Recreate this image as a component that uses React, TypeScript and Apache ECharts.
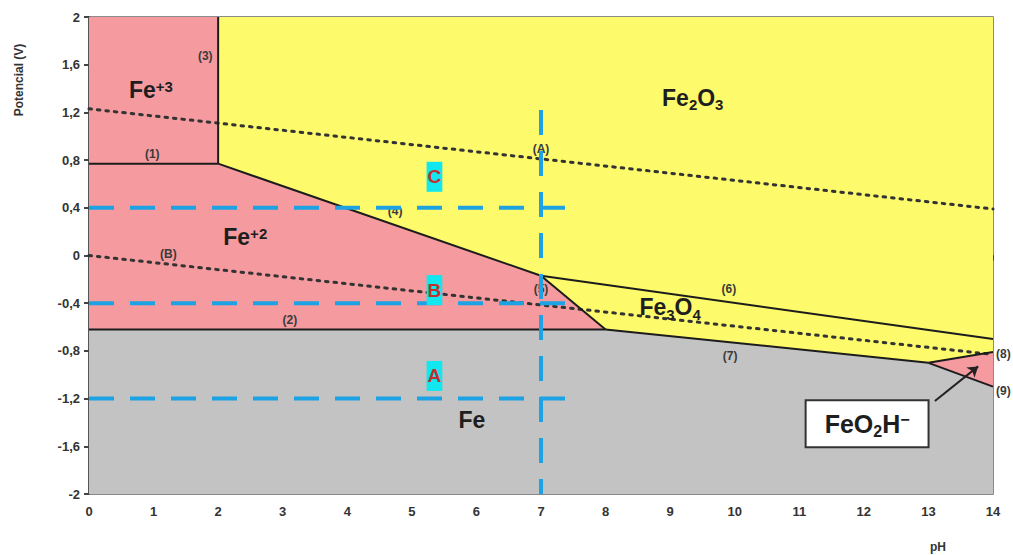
import React, { useEffect, useRef } from 'react';
import * as echarts from 'echarts';

// ---- axis ----
const PH_MIN = 0;
const PH_MAX = 14;
const E_MIN = -2;
const E_MAX = 2;

// ---- stability regions [pH, E] ----
const fe3Region = [[0, 0.77], [2, 0.77], [2, 2], [0, 2]];
const fe2Region = [[0, -0.62], [8, -0.62], [7, -0.17], [2, 0.77], [0, 0.77]];
const fe2o3Region = [[2, 2], [14, 2], [14, -0.7], [7, -0.17], [2, 0.77]];
const fe3o4Region = [[7, -0.17], [14, -0.7], [14, -0.81], [13, -0.9], [8, -0.62]];
const feo2hRegion = [[13, -0.9], [14, -0.81], [14, -1.1]];
const feRegion = [[0, -2], [14, -2], [14, -1.1], [13, -0.9], [8, -0.62], [0, -0.62]];

const regions = [fe3Region, fe2Region, fe2o3Region, fe3o4Region, feo2hRegion, feRegion];
const regionColors = ['#F59A9E', '#F59A9E', '#FDFA6B', '#FDFA6B', '#F59A9E', '#C3C3C3'];

// ---- boundary lines (1)..(9) ----
const boundaryLines = [
  [[0, 0.77], [2, 0.77]],
  [[0, -0.62], [8, -0.62]],
  [[2, 0.77], [2, 2]],
  [[2, 0.77], [7, -0.17]],
  [[7, -0.17], [8, -0.62]],
  [[7, -0.17], [14, -0.7]],
  [[8, -0.62], [13, -0.9]],
  [[13, -0.9], [14, -0.81]],
  [[13, -0.9], [14, -1.1]],
];

// ---- water lines (A), (B) ----
const waterLineA = [[0, 1.23], [14, 0.39]];
const waterLineB = [[0, 0], [14, -0.83]];

// ---- blue guides ----
const guideLevels = [0.4, -0.4, -1.2];
const guideEndPH = 7.5;
const guidePH = 7;
const guideTop = 1.22;

// ---- line labels ----
const lineLabels = [
  { text: '(1)', x: 0.98, y: 0.85 },
  { text: '(3)', x: 1.8, y: 1.67 },
  { text: '(A)', x: 7.0, y: 0.89 },
  { text: '(4)', x: 4.74, y: 0.37 },
  { text: '(B)', x: 1.23, y: 0.01 },
  { text: '(2)', x: 3.11, y: -0.54 },
  { text: '(5)', x: 7.0, y: -0.28 },
  { text: '(6)', x: 9.91, y: -0.28 },
  { text: '(7)', x: 9.93, y: -0.84 },
];
const edgeLabels = [
  { text: '(8)', x: 14, y: -0.83 },
  { text: '(9)', x: 14, y: -1.14 },
];

// ---- species labels ----
const speciesLabels = [
  { text: '{m|Fe}{sup|+3}', x: 0.96, y: 1.38 },
  { text: '{m|Fe}{sup|+2}', x: 2.42, y: 0.15 },
  { text: '{m|Fe}{sub|2}{m|O}{sub|3}', x: 9.35, y: 1.32 },
  { text: '{m|Fe}{sub|3}{m|O}{sub|4}', x: 9.0, y: -0.44 },
  { text: '{m|Fe}', x: 5.93, y: -1.38 },
];

const pointLabels = [
  { text: 'C', x: 5.35, y: 0.66 },
  { text: 'B', x: 5.35, y: -0.29 },
  { text: 'A', x: 5.35, y: -1.01 },
];

const boxLabel = { text: '{m|FeO}{sub|2}{m|H}{sup|−}', x: 12.05, y: -1.41 };
const arrowLine = [[13.1, -1.22], [13.77, -0.93]];

const FONT = 'Arial, "Liberation Sans", sans-serif';
const INK = '#1e1e1e';

function chemRich(main: number, small: number) {
  const lh = Math.round(main * 1.05);
  return {
    m: { fontSize: main, fontWeight: 'bold', color: INK, fontFamily: FONT, lineHeight: lh, verticalAlign: 'top' },
    sup: { fontSize: small, fontWeight: 'bold', color: INK, fontFamily: FONT, lineHeight: Math.round(lh * 0.5) + 2, verticalAlign: 'top' },
    sub: {
      fontSize: small,
      fontWeight: 'bold',
      color: INK,
      fontFamily: FONT,
      lineHeight: 10,
      verticalAlign: 'top',
      padding: [Math.round(lh / 2 + main * 0.33 - small * 0.55), 0, 0, 0],
    },
  };
}

export default function App() {
  const ref = useRef<HTMLDivElement>(null);

  useEffect(() => {
    if (!ref.current) return;
    const chart = echarts.init(ref.current, null, { renderer: 'svg' });

    const fmt = (v: number) => {
      const r = Math.round(v * 10) / 10;
      return String(r).replace('.', ',');
    };

    const series: any[] = [];

    series.push({
      type: 'custom',
      z: 1,
      silent: true,
      data: regions.map((_, i) => [i]),
      renderItem: (params: any, api: any) => {
        const poly = regions[params.dataIndex];
        return {
          type: 'polygon',
          shape: { points: poly.map((p) => api.coord(p)) },
          style: { fill: regionColors[params.dataIndex], stroke: 'none' },
        };
      },
    });

    [waterLineA, waterLineB].forEach((d) => {
      series.push({
        type: 'line',
        z: 3,
        silent: true,
        data: d,
        symbol: 'none',
        lineStyle: { color: '#333', width: 3, type: [2.5, 6], cap: 'round' },
      });
    });

    boundaryLines.forEach((d) => {
      series.push({
        type: 'line',
        z: 4,
        silent: true,
        data: d,
        symbol: 'none',
        lineStyle: { color: '#1c1c1c', width: 2 },
      });
    });

    const labelScatter = (z: number, items: any[], label: any, extra: any = {}) => ({
      type: 'scatter',
      z,
      silent: true,
      symbolSize: 0,
      clip: false,
      itemStyle: { opacity: 1 },
      data: items.map((l) => ({ value: [l.x, l.y], name: l.text })),
      label: { show: true, formatter: (p: any) => p.name, ...label },
      ...extra,
    });

    series.push(
      labelScatter(5, lineLabels, {
        position: 'inside',
        fontSize: 12,
        fontWeight: 'bold',
        color: '#3a3a3a',
        fontFamily: FONT,
      })
    );

    series.push(
      labelScatter(5, edgeLabels, {
        position: 'right',
        distance: 3,
        fontSize: 12,
        fontWeight: 'bold',
        color: '#3a3a3a',
        fontFamily: FONT,
      })
    );

    series.push(
      labelScatter(5, speciesLabels, {
        position: 'inside',
        rich: chemRich(23, 15),
      })
    );

    guideLevels.forEach((lv) => {
      series.push({
        type: 'line',
        z: 6,
        silent: true,
        data: [[PH_MIN, lv], [guideEndPH, lv]],
        symbol: 'none',
        lineStyle: { color: '#1DA2E3', width: 4, type: [25, 16] },
      });
    });
    series.push({
      type: 'line',
      z: 6,
      silent: true,
      data: [[guidePH, guideTop], [guidePH, E_MIN]],
      symbol: 'none',
      lineStyle: { color: '#1DA2E3', width: 4, type: [25, 16] },
    });

    series.push(
      labelScatter(7, pointLabels, {
        position: 'inside',
        fontSize: 19,
        fontWeight: 'bold',
        color: '#C0302E',
        fontFamily: FONT,
        backgroundColor: '#12E6EE',
        padding: [6, 1, 5, 1],
      })
    );

    series.push({
      type: 'line',
      z: 7,
      silent: true,
      data: [],
      markLine: {
        silent: true,
        symbol: ['none', 'arrow'],
        symbolSize: 10,
        label: { show: false },
        lineStyle: { color: '#222', width: 2, type: 'solid' },
        data: [[{ coord: arrowLine[0] }, { coord: arrowLine[1] }]],
      },
    });

    series.push(
      labelScatter(8, [boxLabel], {
        position: 'inside',
        rich: chemRich(25, 16),
        backgroundColor: '#fff',
        borderColor: '#333',
        borderWidth: 2,
        padding: [10, 18, 9, 18],
      })
    );

    const axisLabelStyle = {
      fontSize: 13,
      fontWeight: 'bold',
      color: '#333',
      fontFamily: FONT,
    };

    chart.setOption({
      animation: false,
      backgroundColor: '#fff',
      grid: {
        left: 89,
        right: 20,
        top: 17,
        bottom: 61,
        show: true,
        borderColor: '#666',
        borderWidth: 1.5,
        backgroundColor: 'transparent',
      },
      xAxis: {
        type: 'value',
        min: PH_MIN,
        max: PH_MAX,
        interval: 1,
        splitLine: { show: false },
        axisLine: { show: true, lineStyle: { color: '#555', width: 2 } },
        axisTick: { show: true, length: 5, lineStyle: { color: '#444', width: 2 } },
        axisLabel: { ...axisLabelStyle, margin: 11 },
      },
      yAxis: {
        type: 'value',
        min: E_MIN,
        max: E_MAX,
        interval: 0.4,
        splitLine: { show: false },
        axisLine: { show: true, lineStyle: { color: '#555', width: 2 } },
        axisTick: { show: true, length: 5, lineStyle: { color: '#444', width: 2 } },
        axisLabel: { ...axisLabelStyle, margin: 9, formatter: fmt },
      },
      graphic: [
        {
          type: 'text',
          x: 19,
          y: 80,
          rotation: Math.PI / 2,
          style: {
            text: 'Potencial (V)',
            fontSize: 12,
            fontWeight: 'bold',
            fill: '#333',
            fontFamily: FONT,
            textAlign: 'center',
            textVerticalAlign: 'middle',
          },
        },
        {
          type: 'text',
          x: 938,
          y: 547,
          style: {
            text: 'pH',
            fontSize: 12,
            fontWeight: 'bold',
            fill: '#333',
            fontFamily: FONT,
            textAlign: 'center',
            textVerticalAlign: 'middle',
          },
        },
      ],
      series,
    });

    return () => chart.dispose();
  }, []);

  return (
    <div
      ref={ref}
      style={{ position: 'fixed', left: 0, top: 0, width: 1013, height: 555 }}
    />
  );
}
